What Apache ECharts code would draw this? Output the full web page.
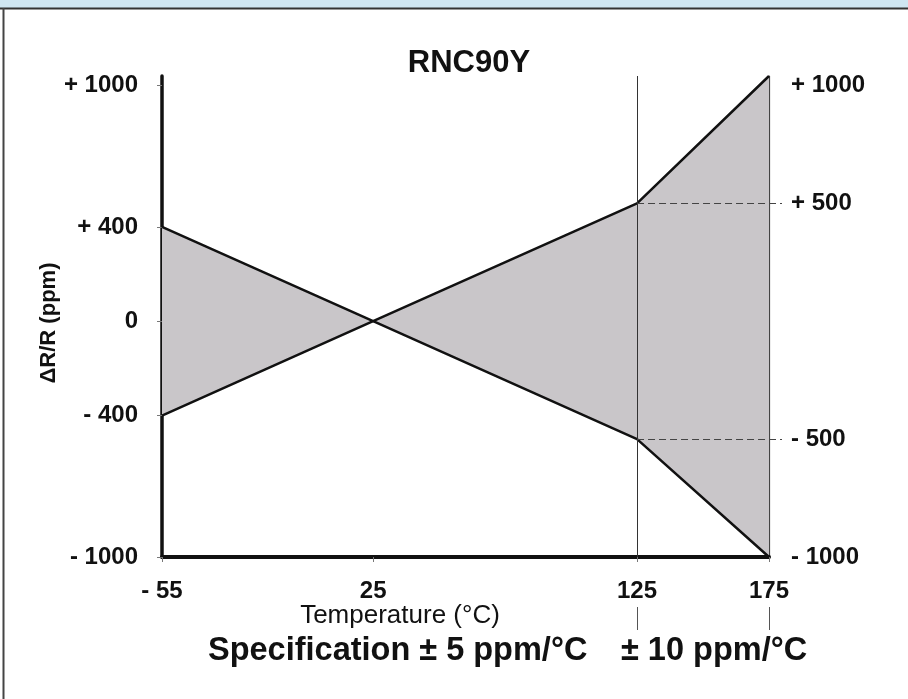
<!DOCTYPE html>
<html>
<head>
<meta charset="utf-8">
<script src="https://cdn.jsdelivr.net/npm/echarts@6/dist/echarts.min.js"></script>
<style>
html,body{margin:0;padding:0;background:#fff;}
#c{width:908px;height:699px;}
</style>
</head>
<body>
<div id="c"></div>
<script>
// ---- data ----
const temps = [-55, 25, 125, 175];
const lineA = [400, 0, -500, -1000];      // decreasing limit
const lineB = [-400, 0, 500, 1040];       // increasing limit
const leftTicks = [-1000, -400, 0, 400, 1000];
const rightTicks = [-1000, -500, 500, 1000];
const rightDashTicks = [-500, 500];
const xTicks = [-55, 25, 125, 175];
const specTicks = [125, 175];
const specBreak = 125;
const titleText = 'RNC90Y';
const xName = 'Temperature (\u00B0C)';
const yName = '\u0394R/R (ppm)';
const spec1 = 'Specification \u00B1 5 ppm/\u00B0C';
const spec2 = '\u00B1 10 ppm/\u00B0C';

const FONT = '"Liberation Sans", Arial, Helvetica, sans-serif';
const fmtSigned = v => v > 0 ? '+ ' + v : (v < 0 ? '- ' + (-v) : '0');
const fmtX = v => v < 0 ? '- ' + (-v) : String(v);

const chart = echarts.init(document.getElementById('c'), null, {renderer: 'canvas'});

const pairsA = temps.map((t, i) => [t, lineA[i]]);
const pairsB = temps.map((t, i) => [t, lineB[i]]);

const option = {
  animation: false,
  backgroundColor: '#ffffff',
  title: {
    text: titleText,
    left: 464, top: 58,
    textAlign: 'center', textVerticalAlign: 'middle',
    textStyle: {fontFamily: FONT, fontSize: 31, fontWeight: 'bold', color: '#111'}
  },
  grid: {left: 162, right: 139, top: 76, bottom: 142, containLabel: false},
  xAxis: [{
    type: 'value', min: -55, max: 175,
    axisLine: {show: true, onZero: false, lineStyle: {color: '#111', width: 4}},
    axisTick: {show: true, customValues: xTicks, length: 5, lineStyle: {color: '#777', width: 1}},
    axisLabel: {customValues: xTicks, formatter: fmtX, margin: 34, verticalAlign: 'middle',
      fontFamily: FONT, fontSize: 24, fontWeight: 'bold', color: '#111'},
    splitLine: {show: false}
  }, {
    type: 'value', min: -55, max: 175, position: 'bottom', offset: 50,
    axisLine: {show: false, onZero: false},
    axisTick: {show: true, customValues: specTicks, length: 23, lineStyle: {color: '#555', width: 1}},
    axisLabel: {show: false},
    splitLine: {show: false}
  }],
  yAxis: [{
    type: 'value', min: -1000, max: 1040, position: 'left',
    axisLine: {show: true, onZero: false, lineStyle: {color: '#111', width: 3.5}},
    axisTick: {show: true, customValues: leftTicks, length: 5, lineStyle: {color: '#777', width: 1}},
    axisLabel: {customValues: leftTicks, formatter: fmtSigned, margin: 24,
      fontFamily: FONT, fontSize: 24, fontWeight: 'bold', color: '#111'},
    splitLine: {show: false}
  }, {
    type: 'value', min: -1000, max: 1040, position: 'right',
    axisLine: {show: true, onZero: false, lineStyle: {color: '#444', width: 1.2}},
    axisTick: {show: true, customValues: rightDashTicks, length: 13, lineStyle: {color: '#444', width: 1, type: [7, 4]}},
    axisLabel: {customValues: rightTicks, formatter: fmtSigned, margin: 22,
      fontFamily: FONT, fontSize: 24, fontWeight: 'bold', color: '#111'},
    splitLine: {show: false}
  }],
  series: [{
    type: 'custom',
    xAxisIndex: 0, yAxisIndex: 0,
    z: 1,
    silent: true,
    data: [[temps[0], 0]],
    renderItem: function (params, api) {
      if (params.dataIndex !== 0) return null;
      const pts = [];
      for (let i = 0; i < temps.length; i++) pts.push(api.coord([temps[i], lineB[i]]));
      for (let i = temps.length - 1; i >= 0; i--) pts.push(api.coord([temps[i], lineA[i]]));
      return {type: 'polygon', shape: {points: pts}, style: {fill: '#c9c6c9', stroke: null}};
    }
  }, {
    type: 'line', data: pairsA, symbol: 'none', z: 3,
    lineStyle: {color: '#111', width: 2.5},
    markLine: {
      silent: true, symbol: 'none', label: {show: false},
      lineStyle: {color: '#333', width: 1, type: 'solid'},
      data: [{xAxis: specBreak}]
    }
  }, {
    type: 'line', data: pairsB, symbol: 'none', z: 3,
    lineStyle: {color: '#111', width: 2.5},
    markLine: {
      silent: true, symbol: 'none', label: {show: false},
      lineStyle: {color: '#444', width: 1, type: [7, 4]},
      data: rightDashTicks.map(v => [{coord: [specBreak, v]}, {coord: [175, v]}])
    }
  }],
  graphic: [
    {type: 'rect', shape: {x: 0, y: 0, width: 908, height: 8}, style: {fill: '#cfe6f2'}, z: 10},
    {type: 'rect', shape: {x: 0, y: 7.5, width: 908, height: 2}, style: {fill: '#333'}, z: 10},
    {type: 'rect', shape: {x: 2.5, y: 8, width: 2, height: 691}, style: {fill: '#444'}, z: 10},
    {type: 'text', x: 49, y: 323, rotation: Math.PI / 2, style: {text: yName, fontFamily: FONT, fontSize: 22,
      fontWeight: 'bold', fill: '#111', textAlign: 'center', textVerticalAlign: 'middle'}},
    {type: 'text', x: 400, y: 616, style: {text: xName, fontFamily: FONT, fontSize: 26, fontWeight: 'normal',
      fill: '#111', textAlign: 'center', textVerticalAlign: 'middle'}},
    {type: 'text', x: 208, y: 651, style: {text: spec1, fontFamily: FONT, fontSize: 32.5, fontWeight: 'bold',
      fill: '#111', textAlign: 'left', textVerticalAlign: 'middle'}},
    {type: 'text', x: 621, y: 651, style: {text: spec2, fontFamily: FONT, fontSize: 32.5, fontWeight: 'bold',
      fill: '#111', textAlign: 'left', textVerticalAlign: 'middle'}}
  ]
};
chart.setOption(option);
</script>
</body>
</html>
